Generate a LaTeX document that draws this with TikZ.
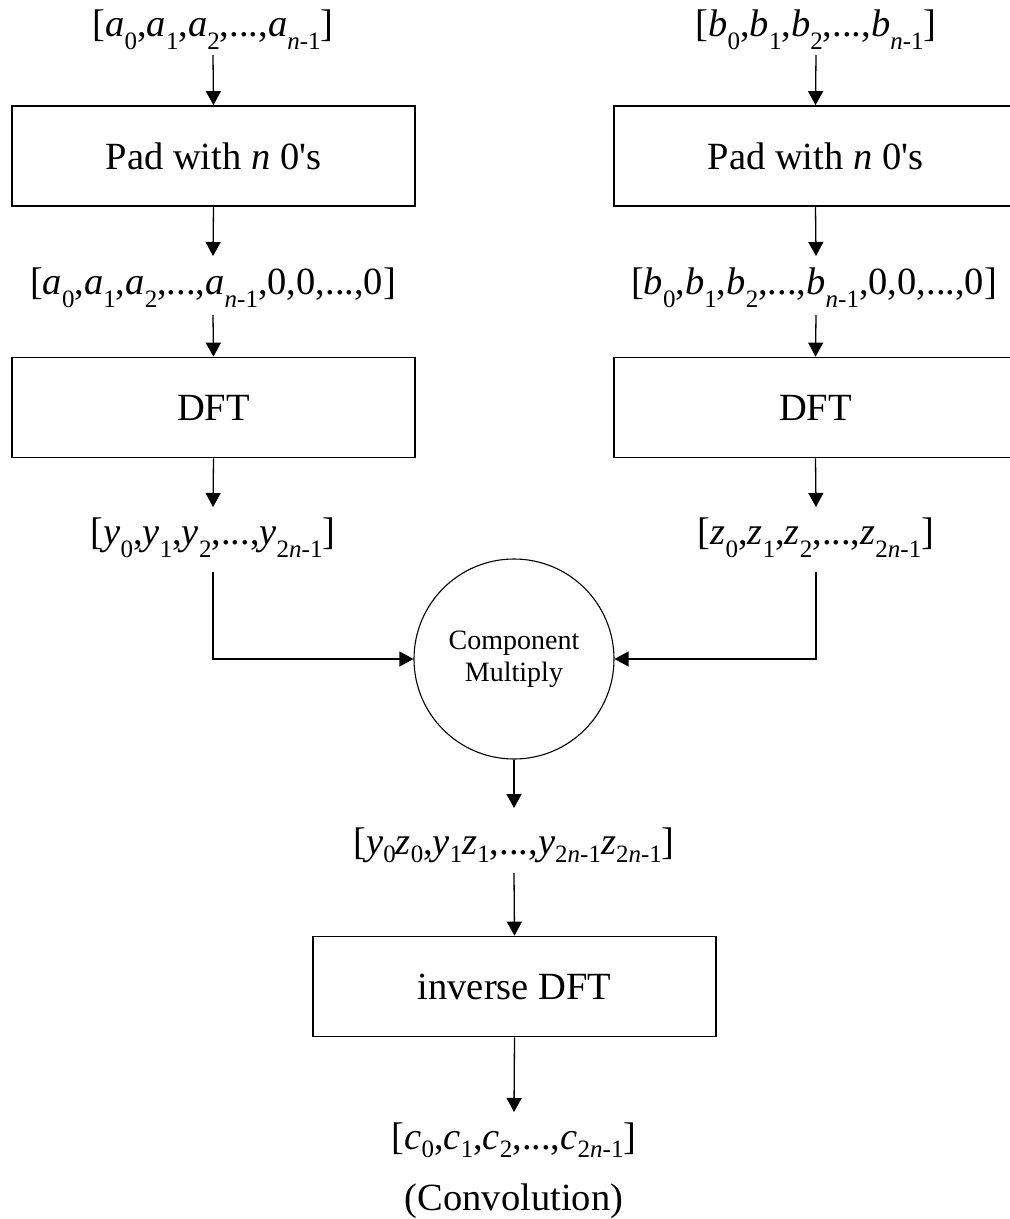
\documentclass[tikz,border=0pt]{standalone}
\usepackage{fontspec}
\setmainfont{Liberation Serif}
\newfontfamily\plainfont{Liberation Serif}
\usetikzlibrary{arrows.meta}
\newcommand\vv[1]{\textit{#1}}
\newcommand\sbx[1]{\raisebox{-13pt}{\fontsize{25}{25}\selectfont #1}}
\newcommand\sby[1]{\raisebox{-8pt}{\fontsize{25}{25}\selectfont #1}}
\newcommand\nmo{\textit{n}-1}
\newcommand\tnmo{2\textit{n}-1}
\newcommand\zeros{{\plainfont 0's}}
\tikzset{
  lab/.style={inner sep=0pt, anchor=base, font=\fontsize{38.5}{46}\selectfont},
  procbox/.style={draw, line width=1.7pt, minimum width=403pt, minimum height=100pt, inner sep=0pt, font=\fontsize{38.5}{46}\selectfont},
  mulcircle/.style={draw, circle, line width=1.1pt, minimum size=200pt, inner sep=0pt, align=center, font=\fontsize{28}{32}\selectfont},
  arr/.style={line width=1.3pt, -{Triangle[length=14pt,width=15pt]}},
}
\begin{document}
\begin{tikzpicture}[x=1pt,y=-1pt]
\useasboundingbox (0,0) rectangle (1010,1219);
\clip (0,0) rectangle (1010,1219);
% left column
\node[lab] (la1) at (213,36) {[\vv{a}\sbx{0},\vv{a}\sbx{1},\vv{a}\sbx{2},...,\vv{a}\sbx{\nmo}]};
\node[procbox] (pad1) at (213.5,156) {Pad with \vv{n} \zeros};
\node[lab] (la2) at (213,294) {[\vv{a}\sbx{0},\vv{a}\sbx{1},\vv{a}\sbx{2},...,\vv{a}\sbx{\nmo},0,0,...,0]};
\node[procbox] (dft1) at (213.5,407.5) {DFT};
\node[lab] (ly) at (213,544) {[\vv{y}\sbx{0},\vv{y}\sbx{1},\vv{y}\sbx{2},...,\vv{y}\sbx{\tnmo}]};
% right column
\node[lab] (lb1) at (816,36) {[\vv{b}\sbx{0},\vv{b}\sbx{1},\vv{b}\sbx{2},...,\vv{b}\sbx{\nmo}]};
\node[procbox] (pad2) at (815.5,156) {Pad with \vv{n} \zeros};
\node[lab] (lb2) at (814,294) {[\vv{b}\sbx{0},\vv{b}\sbx{1},\vv{b}\sbx{2},...,\vv{b}\sbx{\nmo},0,0,...,0]};
\node[procbox] (dft2) at (815.5,407.5) {DFT};
\node[lab] (lz) at (816,544) {[\vv{z}\sbx{0},\vv{z}\sbx{1},\vv{z}\sbx{2},...,\vv{z}\sbx{\tnmo}]};
% middle
\node[mulcircle] (cm) at (514,659) {Component\\Multiply};
\node[lab] (lyz) at (514,854) {[\vv{y}\sby{0}\vv{z}\sby{0},\vv{y}\sby{1}\vv{z}\sby{1},...,\vv{y}\sby{\tnmo}\vv{z}\sby{\tnmo}]};
\node[procbox] (inv) at (514.5,986.5) {inverse DFT};
\node[lab] (lc) at (514,1149) {[\vv{c}\sby{0},\vv{c}\sby{1},\vv{c}\sby{2},...,\vv{c}\sby{\tnmo}]};
\node[lab] (conv) at (514,1210) {(Convolution)};
% connectors left
\draw[arr] ([yshift=-19pt]la1.base) -- (pad1.north);
\draw[arr] (pad1.south) -- ([yshift=38pt]la2.base);
\draw[arr] ([yshift=-21pt]la2.base) -- (dft1.north);
\draw[arr] (dft1.south) -- ([yshift=37pt]ly.base);
\draw[arr] ([yshift=-28pt]ly.base) |- (cm.west);
% connectors right
\draw[arr] ([yshift=-19pt]lb1.base) -- (pad2.north);
\draw[arr] (pad2.south) -- ([yshift=38pt,xshift=2pt]lb2.base);
\draw[arr] ([yshift=-21pt,xshift=2pt]lb2.base) -- (dft2.north);
\draw[arr] (dft2.south) -- ([yshift=37pt]lz.base);
\draw[arr] ([yshift=-28pt]lz.base) |- (cm.east);
% connectors middle
\draw[arr] (cm.south) -- ([yshift=46pt]lyz.base);
\draw[arr] ([yshift=-19pt]lyz.base) -- (inv.north);
\draw[arr] (inv.south) -- ([yshift=37pt]lc.base);
\end{tikzpicture}
\end{document}
